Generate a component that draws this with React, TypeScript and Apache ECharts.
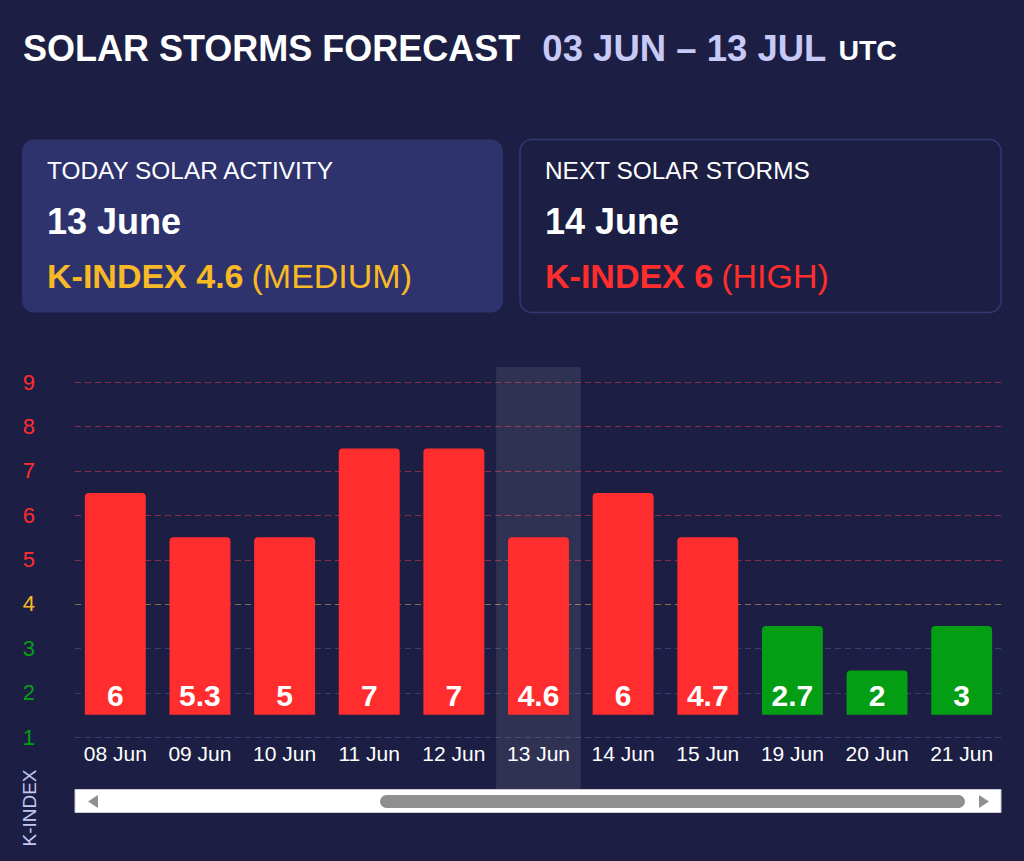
import React, { useEffect, useRef } from 'react';
import * as echarts from 'echarts';

// ---- data ----
const categories = ['08 Jun', '09 Jun', '10 Jun', '11 Jun', '12 Jun', '13 Jun', '14 Jun', '15 Jun', '19 Jun', '20 Jun', '21 Jun'];
const kIndex = [6, 5.3, 5, 7, 7, 4.6, 6, 4.7, 2.7, 2, 3];
const yTicks = [1, 2, 3, 4, 5, 6, 7, 8, 9];
const todayCategory = '13 Jun';

const titleMain = 'SOLAR STORMS FORECAST';
const titleRange = '03 JUN – 13 JUL';
const titleZone = 'UTC';

const cardHeadings = ['TODAY SOLAR ACTIVITY', 'NEXT SOLAR STORMS'];
const cardDates = ['13 June', '14 June'];
const cardK = [4.6, 6];
const cardLevels = ['MEDIUM', 'HIGH'];

// ---- styles ----
const BG = '#1c1f43';
const RED = '#ff2d2d';
const YELLOW = '#f8b926';
const GREEN = '#039e13';
const FONT = '"Liberation Sans", Arial, sans-serif';
const BAR_BASE = 1.5;

const levelColor: Record<string, string> = { MEDIUM: YELLOW, HIGH: RED, LOW: GREEN };

function colorForValue(v: number) {
  const r = Math.round(v);
  if (r >= 5) return RED;
  if (r === 4) return YELLOW;
  return GREEN;
}
function gridColorFor(v: number) {
  if (v >= 5) return '#8a2b48';
  if (v === 4) return '#86704a';
  return '#383f72';
}

export default function App() {
  const ref = useRef<HTMLDivElement>(null);

  useEffect(() => {
    document.body.style.margin = '0';
    document.body.style.background = BG;
    if (!ref.current) return;
    const chart = echarts.init(ref.current, undefined, { renderer: 'svg' });

    const GRID_LEFT = 73;
    const GRID_RIGHT_X = 1004;
    const GRID_TOP = 382;
    const GRID_BOTTOM_Y = 737;
    const LINE_X0 = 75;
    const LINE_X1 = 1001;

    const cardGraphics: any[] = [];
    const cardX = [22, 520];
    cardHeadings.forEach((h, i) => {
      const x = cardX[i];
      cardGraphics.push({
        type: 'rect',
        shape: { x, y: 139.5, width: 481, height: 173, r: 12 },
        style: i === 0 ? { fill: '#2e336e' } : { fill: BG, stroke: '#313873', lineWidth: 1.5 },
        z: 1,
      });
      const tx = x + 25;
      cardGraphics.push({
        type: 'text', x: tx, y: 170, z: 2,
        style: { text: h, fill: '#ffffff', font: `24.4px ${FONT}`, verticalAlign: 'middle' },
      });
      cardGraphics.push({
        type: 'text', x: tx, y: 221, z: 2,
        style: { text: cardDates[i], fill: '#ffffff', font: `bold 36px ${FONT}`, verticalAlign: 'middle' },
      });
      const c = levelColor[cardLevels[i]];
      cardGraphics.push({
        type: 'text', x: tx, y: 276, z: 2,
        style: {
          text: `{b|K-INDEX ${cardK[i]}}{n|(${cardLevels[i]})}`,
          verticalAlign: 'middle',
          rich: {
            b: { fill: c, color: c, fontSize: 34, fontWeight: 'bold', fontFamily: FONT },
            n: { fill: c, color: c, fontSize: 34, fontFamily: FONT, padding: [0, 0, 0, 8] },
          },
        },
      });
    });

    const scrollGraphics: any[] = [
      {
        type: 'rect', z: 1,
        shape: { x: LINE_X0, y: 789.5, width: LINE_X1 - LINE_X0, height: 23 },
        style: { fill: '#ffffff', stroke: '#c9cad3', lineWidth: 1 },
      },
      {
        type: 'rect', z: 2,
        shape: { x: 380, y: 795, width: 585, height: 13, r: 6.5 },
        style: { fill: '#8f8f8f' },
      },
      {
        type: 'polygon', z: 2,
        shape: { points: [[98, 795], [98, 808], [88, 801.5]] },
        style: { fill: '#8f8f8f' },
      },
      {
        type: 'polygon', z: 2,
        shape: { points: [[979, 795], [979, 808], [989, 801.5]] },
        style: { fill: '#8f8f8f' },
      },
    ];

    const baseGraphics: any[] = [
      {
        type: 'text', x: 23, y: 48, z: 2,
        style: {
          text: `{a|${titleMain}}{b|${titleRange}}{c|${titleZone}}`,
          verticalAlign: 'middle',
          rich: {
            a: { fill: '#ffffff', color: '#ffffff', fontSize: 36, fontWeight: 'bold', fontFamily: FONT, verticalAlign: 'middle' },
            b: { fill: '#c7caf6', color: '#c7caf6', fontSize: 36.5, fontWeight: 'bold', fontFamily: FONT, verticalAlign: 'middle', padding: [0, 0, 0, 22] },
            c: { fill: '#ffffff', color: '#ffffff', fontSize: 28.5, fontWeight: 'bold', fontFamily: FONT, verticalAlign: 'middle', padding: [4, 0, 0, 12] },
          },
        },
      },
      {
        type: 'text', x: 29, y: 808, rotation: Math.PI / 2, z: 2,
        style: { text: 'K-INDEX', fill: '#c4c8f0', font: `19px ${FONT}`, align: 'center', verticalAlign: 'middle' },
      },
      ...cardGraphics,
      ...scrollGraphics,
    ];

    const option: any = {
      animation: false,
      backgroundColor: BG,
      textStyle: { fontFamily: FONT },
      grid: {
        left: GRID_LEFT,
        right: 1024 - GRID_RIGHT_X,
        top: GRID_TOP,
        bottom: 861 - GRID_BOTTOM_Y,
      },
      xAxis: {
        type: 'category',
        data: categories,
        axisLine: { show: false },
        axisTick: { show: false },
        axisLabel: { color: '#ffffff', fontSize: 21, margin: 6, fontFamily: FONT, interval: 0 },
      },
      yAxis: {
        type: 'value',
        min: yTicks[0],
        max: yTicks[yTicks.length - 1],
        interval: 1,
        axisLine: { show: false },
        axisTick: { show: false },
        axisLabel: {
          fontSize: 22,
          fontFamily: FONT,
          margin: 38,
          align: 'right',
          color: (v: any) => colorForValue(Number(v)),
        },
        splitLine: { show: false },
      },
      series: [
        {
          type: 'bar',
          stack: 'k',
          silent: true,
          barWidth: '72%',
          itemStyle: { color: 'rgba(0,0,0,0)' },
          data: kIndex.map(() => BAR_BASE),
          z: 2,
        },
        {
          type: 'bar',
          stack: 'k',
          barWidth: '72%',
          z: 3,
          data: kIndex.map((v) => ({
            value: Math.round(v) + 0.5 - BAR_BASE,
            itemStyle: { color: colorForValue(v), borderRadius: [4, 4, 0, 0] },
            label: { formatter: String(v) },
          })),
          label: {
            show: true,
            position: 'insideBottom',
            distance: 4,
            color: '#ffffff',
            fontSize: 30,
            fontWeight: 'bold',
            fontFamily: FONT,
          },
        },
      ],
      graphic: baseGraphics,
    };

    chart.setOption(option);

    // grid lines at each tick and highlight band for today's category, from the axis scales
    const extra: any[] = [];
    yTicks.forEach((v) => {
      const py = Math.round(chart.convertToPixel({ yAxisIndex: 0 }, v) as number) + 0.5;
      extra.push({
        type: 'line',
        z: -1,
        silent: true,
        shape: { x1: LINE_X0, y1: py, x2: LINE_X1, y2: py },
        style: { stroke: gridColorFor(v), lineWidth: 1, lineDash: [6, 4] },
      });
    });
    const idx = categories.indexOf(todayCategory);
    if (idx >= 0) {
      const c0 = chart.convertToPixel({ xAxisIndex: 0 }, categories[0]) as number;
      const c1 = chart.convertToPixel({ xAxisIndex: 0 }, categories[1]) as number;
      const band = Math.abs(c1 - c0);
      const cx = chart.convertToPixel({ xAxisIndex: 0 }, todayCategory) as number;
      const yTop = (chart.convertToPixel({ yAxisIndex: 0 }, yTicks[yTicks.length - 1]) as number) - 15;
      extra.push({
        type: 'rect',
        z: 0,
        silent: true,
        shape: { x: cx - band / 2, y: yTop, width: band, height: 789 - yTop },
        style: { fill: 'rgba(255,255,255,0.085)' },
      });
    }
    chart.setOption({ graphic: [...baseGraphics, ...extra] }, { replaceMerge: ['graphic'] });

    return () => chart.dispose();
  }, []);

  return <div ref={ref} style={{ width: 1024, height: 861, background: BG }} />;
}
